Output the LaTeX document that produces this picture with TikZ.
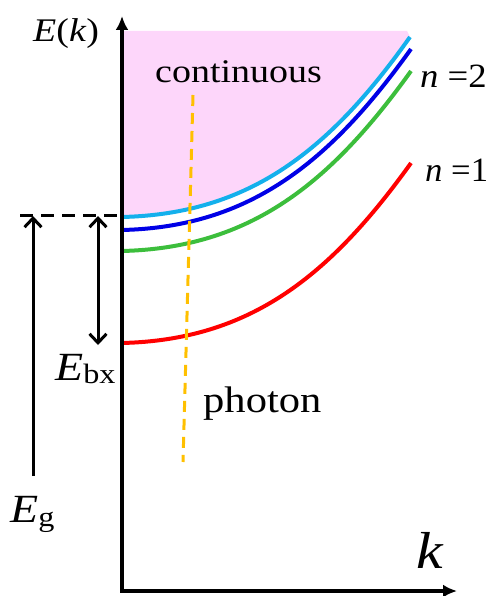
\documentclass[tikz,border=0pt]{standalone}
\usepackage{fontspec}
\setmainfont{Liberation Serif}
\usetikzlibrary{arrows.meta}
\definecolor{pinkfill}{RGB}{253,214,250}
\definecolor{cyanc}{RGB}{20,176,236}
\definecolor{bluec}{RGB}{0,0,230}
\definecolor{greenc}{RGB}{60,190,60}
\definecolor{redc}{RGB}{255,0,0}
\definecolor{photonc}{RGB}{255,192,0}
\tikzset{
  axis/.style={line width=3.3pt,-{Latex[length=14pt,width=13pt]}},
  band/.style={line width=4pt},
  barb/.style={line width=3pt},
  lbl/.style={inner sep=0pt,anchor=base west,text=black},
}
\newcommand{\fs}[1]{\fontsize{#1}{#1}\selectfont}
\newcommand{\wide}[1]{\scalebox{1.15}[1]{#1}}
\begin{document}
\begin{tikzpicture}[x=1pt,y=-1pt]
\useasboundingbox (0,0) rectangle (492,596);
% continuum fill
\fill[pinkfill] (122,31) -- (407,31) -- (410,37) .. controls (330,150) and (250,214) .. (122,217) -- cycle;
% bands
\draw[band,redc]   (122,343) .. controls (250,340) and (330,276) .. (411,163);
\draw[band,greenc] (122,251) .. controls (250,248) and (330,184) .. (411,71);
\draw[band,bluec]  (122,230) .. controls (250,227) and (330,162) .. (411,49);
\draw[band,cyanc]  (122,217) .. controls (250,214) and (330,150) .. (410,37);
% photon
\coordinate (ph1) at (193,95);
\coordinate (ph2) at (183,462);
\draw[photonc,line width=3pt,dash pattern=on 11pt off 7pt] (ph1) -- (ph2);
% axes
\coordinate (O) at (122,591);
\coordinate (ytip) at (122,16);
\coordinate (xtip) at (457,591);
\draw[axis] (O) -- (ytip);
\draw[axis] ([xshift=-1.65pt]O) -- (xtip);
% dashed gap level
\coordinate (d1) at (20,215);
\coordinate (d2) at (122,215);
\draw[line width=3pt,dash pattern=on 13pt off 8pt] (d1) -- (d2);
% Eg arrow
\coordinate (eg1) at (33,476);
\coordinate (eg2) at (33,216);
\draw[barb,-{Straight Barb[length=9pt,width=17pt]}] (eg1) -- (eg2);
% Ebx arrow
\coordinate (eb1) at (98,216);
\coordinate (eb2) at (98,345);
\draw[barb,{Straight Barb[length=9pt,width=17pt]}-{Straight Barb[length=9pt,width=17pt]}] (eb1) -- (eb2);
% labels
\node[lbl] (Ek) at (33,42) {\wide{\fs{33}\textit{E}(\textit{k})}};
\node[lbl] (cont) at (155,83) {\wide{\fs{33}continuous}};
\node[lbl] (phot) at (203,412) {\wide{\fs{37}photon}};
\node[lbl] (kk) at (416,568) {\wide{\fs{52}\textit{k}}};
\node[lbl] (n2) at (420,88) {\scalebox{1.08}[1]{\fs{34}\textit{n} =2}};
\node[lbl] (n1) at (425,182) {\scalebox{1.02}[1]{\fs{34}\textit{n} =1}};
\node[lbl] (Ebx) at (55,380) {\wide{\fs{40}\textit{E}\raisebox{-3pt}{\fs{28}bx}}};
\node[lbl] (Eg) at (10,522) {\wide{\fs{40}\textit{E}\raisebox{-4pt}{\fs{28}g}}};
\end{tikzpicture}
\end{document}
